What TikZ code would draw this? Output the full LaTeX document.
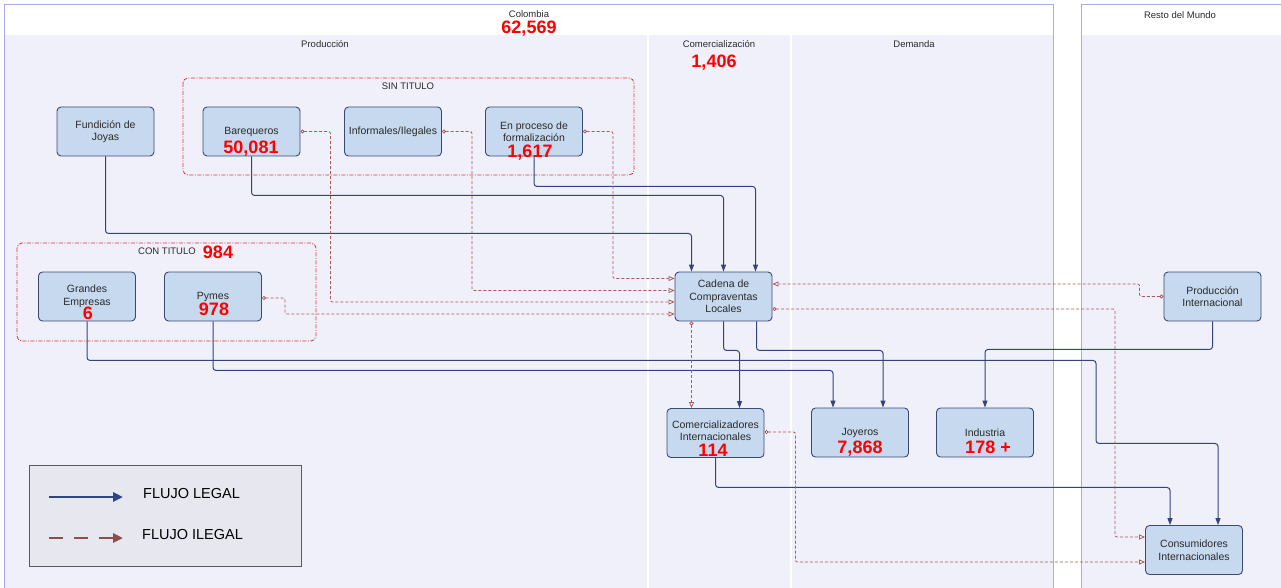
\documentclass[tikz,border=0pt]{standalone}
\usepackage{fontspec}
\setmainfont{Liberation Sans}
\usetikzlibrary{arrows.meta,calc}

\definecolor{lanebg}{HTML}{F0F0FB}
\definecolor{poolline}{HTML}{ABABE4}
\definecolor{nodefill}{HTML}{C6D9EF}
\definecolor{nodedraw}{HTML}{3B4A73}
\definecolor{legalc}{HTML}{34437A}
\definecolor{illegalc}{HTML}{AA5A5A}
\definecolor{groupred}{HTML}{E0303A}
\definecolor{numred}{HTML}{FF0000}
\definecolor{legendfill}{HTML}{E7E7EF}
\definecolor{legenddraw}{HTML}{5A5A5A}
\definecolor{leglegal}{HTML}{2E4780}
\definecolor{legillegal}{HTML}{8E4E4E}
\definecolor{txt}{HTML}{2A2A2A}

\tikzset{
  lanetitle/.style={font=\fontsize{9.5}{11}\selectfont, text=txt, inner sep=0pt},
  bignum/.style={font=\fontsize{18}{18}\selectfont\bfseries, text=numred, inner sep=0pt,
                 text height=12.9pt, text depth=0pt},
  box/.style={draw=nodedraw, fill=nodefill, line width=0.9pt, rounded corners=4pt,
              minimum width=97pt, minimum height=49pt, inner sep=1pt, align=center,
              font=\fontsize{10.5}{12.5}\selectfont, text=txt},
  groupbox/.style={draw=groupred, line width=0.8pt, rounded corners=5pt,
                   dash pattern=on 4pt off 1.5pt on 1pt off 1.5pt},
  legal/.style={draw=legalc, line width=1pt, rounded corners=3pt,
                -{Triangle[length=7pt,width=5pt]}},
  illegal/.style={draw=illegalc, line width=0.8pt, rounded corners=2pt,
                  dash pattern=on 3pt off 2pt,
                  {Circle[fill=white,length=4pt]}-{Triangle[fill=white,length=6pt,width=5pt]}},
  legendtext/.style={font=\fontsize{14.5}{16}\selectfont, text=black, anchor=west, inner sep=0pt},
}

\begin{document}
\begin{tikzpicture}[x=1pt,y=-1pt]
\useasboundingbox (0,0) rectangle (1281,588);
\fill[white] (0,0) rectangle (1281,588);

% swimlane pools
\fill[lanebg] (4,35) rectangle (1053,588);
\fill[lanebg] (1081,35) rectangle (1281,588);
\draw[white, line width=2pt] (647.5,35) -- (647.5,588);
\draw[white, line width=2pt] (790.5,35) -- (790.5,588);
\draw[poolline, line width=1pt] (4,588) -- (4,5) -- (1053,5) -- (1053,588);
\draw[poolline, line width=1pt] (1081,588) -- (1081,5) -- (1281,5);

% pool and lane titles
\node[lanetitle] (colombia) at (529,14) {Colombia};
\node[bignum] (colnum) at (529,27.5) {62,569};
\node[lanetitle] (produccion) at (325,44) {Producción};
\node[lanetitle] (comerc) at (719,44) {Comercialización};
\node[bignum] (comnum) at (714,61) {1,406};
\node[lanetitle] (demanda) at (914,44) {Demanda};
\node[lanetitle] (resto) at (1180,15) {Resto del Mundo};

% groups
\draw[groupbox] (183,78) rectangle (634,175);
\node[lanetitle] (sintitulo) at (408,86) {SIN TITULO};
\draw[groupbox] (17,243) rectangle (316,341);
\node[lanetitle] (contitulo) at (167,251) {CON TITULO};
\node[bignum] (connum) at (218,252) {984};

% actors
\node[box] (fund) at (105.5,131.5) {Fundición de\\Joyas};
\node[box] (bareq) at (251.5,131.5) {Barequeros};
\node[box] (infor) at (393,131.5) {Informales/Ilegales};
\node[box] (proc) at (534,131.5) {En proceso de\\formalización};
\node[box] (grandes) at (87,296.5) {Grandes\\Empresas\\[-9.5pt]\mbox{}};
\node[box] (pymes) at (213,296.5) {Pymes};
\node[box] (cadena) at (723.5,296.5) {Cadena de\\Compraventas\\Locales};
\node[box] (prodint) at (1212.5,296.5) {Producción\\Internacional};
\node[box] (comint) at (715.5,433) {Comercializadores\\Internacionales\\[-7.5pt]\mbox{}};
\node[box] (joy) at (860,432.5) {Joyeros};
\node[box] (ind) at (985,432.5) {Industria};
\node[box] (cons) at (1194,550) {Consumidores\\Internacionales};

% figures
\node[bignum] (bareqnum) at (251,147) {50,081};
\node[bignum] (procnum) at (530,151) {1,617};
\node[bignum] (grandesnum) at (88,313) {6};
\node[bignum] (pymesnum) at (214,309) {978};
\node[bignum] (comintnum) at (713,450) {114};
\node[bignum] (joynum) at (860,447) {7,868};
\node[bignum] (indnum) at (988,447) {178 +};

% legal flows
\draw[legal] (fund.south) -- ++(0,77) -| ([xshift=-32pt]cadena.north);
\draw[legal] (bareq.south) -- ++(0,39) -| (cadena.north);
\draw[legal] (proc.south) -- ++(0,30) -| ([xshift=32pt]cadena.north);
\draw[legal] (grandes.south) -- ++(0,39) -| ++(1009,83) -| ([xshift=24pt]cons.north);
\draw[legal] (pymes.south) -- ++(0,49) -| ([xshift=-27pt]joy.north);
\draw[legal] (cadena.south) -- ++(0,29) -| ([xshift=24pt]comint.north);
\draw[legal] ([xshift=33pt]cadena.south) -- ++(0,29) -| ([xshift=23pt]joy.north);
\draw[legal] (prodint.south) -- ++(0,28) -| (ind.north);
\draw[legal] (comint.south) -- ++(0,29.5) -| ([xshift=-24pt]cons.north);

% illegal flows
\draw[illegal] (bareq.east) -- ++(30,0) |- ([yshift=-5.5pt]cadena.west);
\draw[illegal] (infor.east) -- ++(30,0) |- ([yshift=6pt]cadena.west);
\draw[illegal] (proc.east) -- ++(30,0) |- ([yshift=18pt]cadena.west);
\draw[illegal] ([yshift=-1.5pt]pymes.east) -- ++(23,0) |- ([yshift=-17.5pt]cadena.west);
\draw[illegal] (prodint.west) -- ++(-24,0) |- ([yshift=12.5pt]cadena.east);
\draw[illegal] ([yshift=-12.5pt]cadena.east) -| ([xshift=-30pt,yshift=13pt]cons.west) -- ([yshift=13pt]cons.west);
\draw[illegal] ([yshift=1pt]comint.east) -- ++(31,0) |- ([yshift=-12pt]cons.west);
\draw[illegal] ([xshift=-32pt]cadena.south) -- ([xshift=-24pt]comint.north);

% legend
\node[draw=legenddraw, fill=legendfill, line width=1pt, minimum width=272pt, minimum height=101pt,
      inner sep=0pt] (legend) at (165,515.5) {};
\coordinate (l1s) at (49,497);
\coordinate (l1e) at (123,497);
\coordinate (l2s) at (49,538);
\coordinate (l2e) at (123,538);
\draw[leglegal, line width=2.5pt, -{Triangle[length=10pt,width=9pt]}] (l1s) -- (l1e);
\draw[legillegal, line width=2.5pt, dash pattern=on 14pt off 11pt, -{Triangle[length=10pt,width=9pt]}] (l2s) -- (l2e);
\node[legendtext] (leglegaltxt) at (143,494) {FLUJO LEGAL};
\node[legendtext] (legillegaltxt) at (142,535) {FLUJO ILEGAL};
\end{tikzpicture}
\end{document}
